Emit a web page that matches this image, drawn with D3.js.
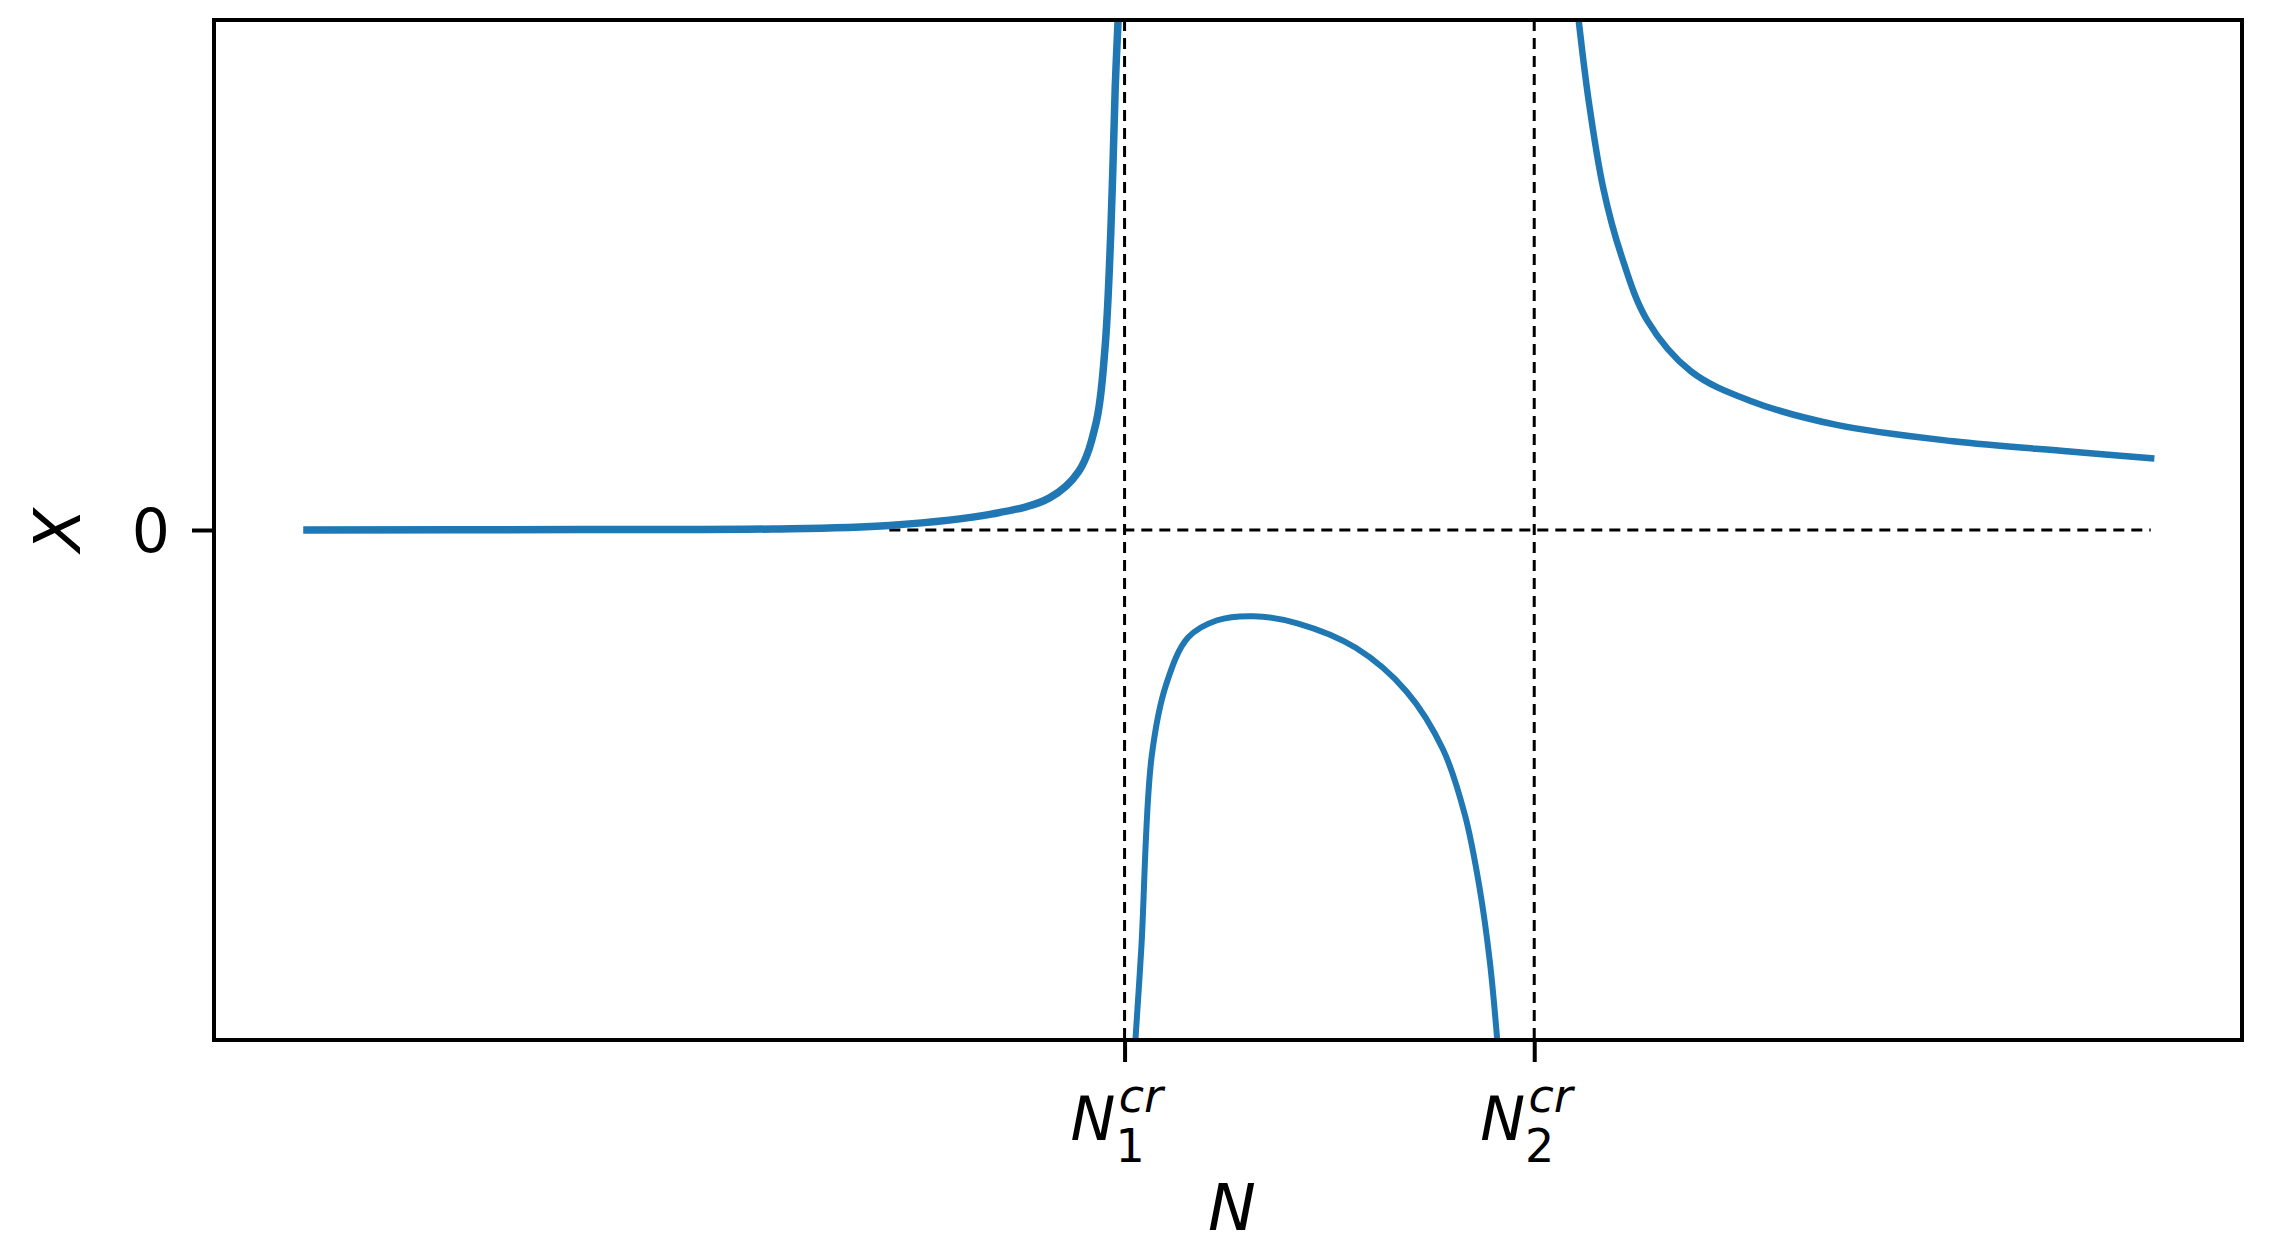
<!DOCTYPE html>
<html><head><meta charset="utf-8">
<script src="https://cdn.jsdelivr.net/npm/d3@7"></script>
<style>body{margin:0;background:#fff}text{font-family:"DejaVu Sans";fill:#000}</style>
</head><body><svg id="c"></svg>
<script>
// critical points and curve branches (abstract units)
var critN = [0.449, 0.651]
var critLabels = ['1', '2']
var leftX = [0.044, 0.182, 0.2755, 0.333, 0.3833, 0.412, 0.4264, 0.435, 0.4393, 0.4422, 0.4444, 0.4458]
var leftY = [0, 0.001, 0.002, 0.009, 0.031, 0.063, 0.115, 0.211, 0.354, 0.583, 0.869, 1.0]
var midX = [0.4544, 0.4573, 0.4623, 0.4695, 0.4803, 0.4947, 0.5126, 0.5342, 0.563, 0.5881, 0.6061, 0.6169, 0.6241, 0.6291, 0.6327]
var midY = [-0.997, -0.817, -0.446, -0.303, -0.211, -0.177, -0.169, -0.183, -0.231, -0.317, -0.431, -0.56, -0.703, -0.846, -0.997]
var rightX = [0.6729, 0.6779, 0.6851, 0.6938, 0.7067, 0.7283, 0.757, 0.8001, 0.8576, 0.9151, 0.9568]
var rightY = [1.0, 0.84, 0.669, 0.54, 0.411, 0.311, 0.254, 0.206, 0.174, 0.154, 0.14]
var zeroLine = [0.333, 0.955]

var W = 2286, H = 1260
var m = {l: 214, r: 2242, t: 20, b: 1040}
var svg = d3.select('#c').attr('width', W).attr('height', H)
var x = d3.scaleLinear().domain([0, 1]).range([m.l, m.r])
var y = d3.scaleLinear().domain([-1, 1]).range([m.b, m.t])

svg.append('clipPath').attr('id', 'clip').append('rect')
  .attr('x', m.l).attr('y', m.t).attr('width', m.r - m.l).attr('height', m.b - m.t)
var plot = svg.append('g').attr('clip-path', 'url(#clip)')

// dashed guides
critN.forEach(function (n) {
  plot.append('line').attr('x1', x(n)).attr('x2', x(n)).attr('y1', m.t).attr('y2', m.b)
    .attr('stroke', '#000').attr('stroke-width', 3).attr('stroke-dasharray', '11,7')
})
plot.append('line').attr('x1', x(zeroLine[0])).attr('x2', x(zeroLine[1])).attr('y1', y(0)).attr('y2', y(0))
  .attr('stroke', '#000').attr('stroke-width', 3).attr('stroke-dasharray', '11,7')

var line = d3.line().x(function (d) { return x(d[0]) }).y(function (d) { return y(d[1]) }).curve(d3.curveCatmullRom.alpha(0.5))
var branches = [[leftX, leftY, 7.5], [midX, midY, 6], [rightX, rightY, 6.5]]
branches.forEach(function (b) {
  var pts = b[0].map(function (v, i) { return [v, b[1][i]] })
  plot.append('path').attr('d', line(pts)).attr('fill', 'none')
    .attr('stroke', '#1f77b4').attr('stroke-width', b[2])
})

// frame
svg.append('rect').attr('x', m.l).attr('y', m.t).attr('width', m.r - m.l).attr('height', m.b - m.t)
  .attr('fill', 'none').attr('stroke', '#000').attr('stroke-width', 4)

// x ticks
var xAxis = d3.axisBottom(x).tickValues(critN).tickSize(22).tickFormat('')
var gx = svg.append('g').attr('transform', 'translate(0,' + m.b + ')').call(xAxis)
gx.select('.domain').remove()
gx.selectAll('line').attr('stroke-width', 4)
critN.forEach(function (n, i) {
  var t = svg.append('text').attr('x', x(n) - 54).attr('y', m.b + 100).attr('font-size', 60)
  t.append('tspan').attr('font-style', 'italic').text('N')
  t.append('tspan').attr('font-size', 46).attr('dy', 22).text(critLabels[i])
  t.append('tspan').attr('font-size', 46).attr('font-style', 'italic').attr('dx', -26).attr('dy', -50).text('cr')
})
// y tick
var yAxis = d3.axisLeft(y).tickValues([0]).tickSize(22).tickFormat('')
var gy = svg.append('g').attr('transform', 'translate(' + m.l + ',0)').call(yAxis)
gy.select('.domain').remove()
gy.selectAll('line').attr('stroke-width', 4)
svg.append('text').attr('x', m.l - 44).attr('y', y(0) + 22).attr('text-anchor', 'end').attr('font-size', 60).text('0')

svg.append('text').attr('x', 1232).attr('y', 1230).attr('text-anchor', 'middle')
  .attr('font-size', 64).attr('font-style', 'italic').text('N')
svg.append('text').attr('transform', 'translate(80,' + y(0) + ') rotate(-90)').attr('text-anchor', 'middle')
  .attr('font-size', 64).attr('font-style', 'italic').text('X')
</script></body></html>
